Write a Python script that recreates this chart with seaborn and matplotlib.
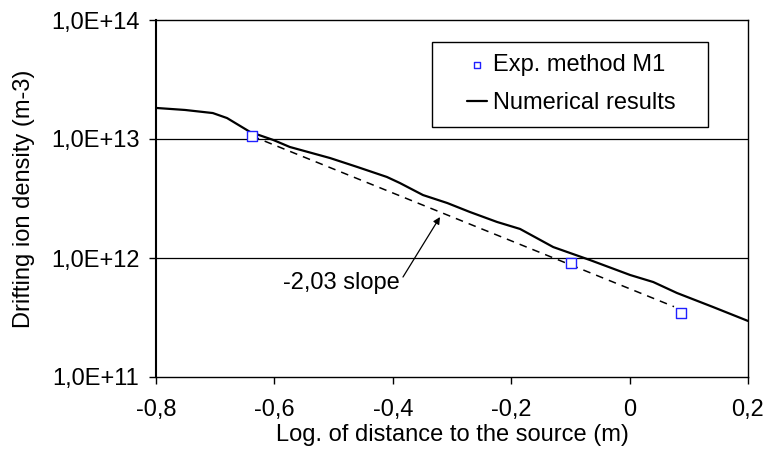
import matplotlib
matplotlib.use("Agg")
import matplotlib.pyplot as plt
import matplotlib.ticker as mticker
from matplotlib.patches import Rectangle
import seaborn as sns
import pandas as pd

# Numerical results curve (log distance, log10 density)
num_x = [-0.800, -0.751, -0.704, -0.680, -0.641, -0.602, -0.574, -0.506, -0.460,
         -0.410, -0.388, -0.349, -0.308, -0.270, -0.224, -0.185, -0.129, -0.067,
         0.001, 0.040, 0.080, 0.141, 0.200]
num_logy = [13.261, 13.244, 13.218, 13.176, 13.059, 12.992, 12.933, 12.840, 12.765,
            12.681, 12.630, 12.529, 12.462, 12.387, 12.303, 12.244, 12.092, 11.983,
            11.857, 11.798, 11.706, 11.588, 11.471]
num_y = [10 ** v for v in num_logy]

# Experimental points (method M1)
exp_x = [-0.638, -0.099, 0.087]
exp_y = [1.06e13, 9.1e11, 3.45e11]

# Fitted slope line endpoints
fit_x = [-0.638, 0.075]
fit_y = [1.06e13, 3.9e11]

x_ticks = [-0.8, -0.6, -0.4, -0.2, 0.0, 0.2]
x_tick_labels = ["-0,8", "-0,6", "-0,4", "-0,2", "0", "0,2"]
y_ticks = [1e11, 1e12, 1e13, 1e14]
y_tick_labels = ["1,0E+11", "1,0E+12", "1,0E+13", "1,0E+14"]

sns.set_theme(style="white")
plt.rcParams['font.family'] = ['Liberation Sans', 'DejaVu Sans']
plt.rcParams['text.color'] = 'black'
plt.rcParams['axes.labelcolor'] = 'black'
plt.rcParams['xtick.color'] = 'black'
plt.rcParams['ytick.color'] = 'black'

FS = 17
W, H = 767, 451
fig = plt.figure(figsize=(W / 100, H / 100), dpi=100)
ax = fig.add_axes([156 / W, 1 - 377 / H, (748 - 156) / W, (377 - 20) / H])

df_num = pd.DataFrame({"x": num_x, "y": num_y})
df_exp = pd.DataFrame({"x": exp_x, "y": exp_y})
df_fit = pd.DataFrame({"x": fit_x, "y": fit_y})

ax.set_yscale("log")
ax.set_xlim(-0.8, 0.2)
ax.set_ylim(1e11, 1e14)

for v in [1e12, 1e13]:
    ax.axhline(v, color="black", lw=0.9, zorder=1)

sns.lineplot(data=df_fit, x="x", y="y", ax=ax, color="black", lw=1.1,
             linestyle=(0, (5, 4)), legend=False, zorder=2)
sns.lineplot(data=df_num, x="x", y="y", ax=ax, color="black", lw=1.6,
             label="Numerical results", zorder=3, sort=False)
sns.scatterplot(data=df_exp, x="x", y="y", ax=ax, marker="s", s=45,
                facecolor="white", edgecolor="#2020FF", linewidth=1.0,
                label="Exp. method M1", zorder=4)

ax.set_xticks(x_ticks)
ax.set_xticklabels(x_tick_labels)
ax.set_yticks(y_ticks)
ax.set_yticklabels(y_tick_labels)
ax.yaxis.set_minor_locator(mticker.NullLocator())
ax.tick_params(axis="both", which="major", direction="out", length=5, width=1,
               color="black", labelcolor="black", labelsize=FS, left=True, bottom=True)
ax.tick_params(axis="x", pad=11)
ax.tick_params(axis="y", pad=7)

for s in ax.spines.values():
    s.set_color("black")
    s.set_linewidth(1.0)
ax.spines["left"].set_linewidth(1.5)

ax.set_xlabel("Log. of distance to the source (m)", fontsize=FS, va="center", color="black")
ax.xaxis.set_label_coords(0.5, -(435 - 377) / 357)
ax.set_ylabel("Drifting ion density (m-3)", fontsize=FS, va="center", color="black")
ax.yaxis.set_label_coords((24 - 156) / 592, 0.5)

handles, labels = ax.get_legend_handles_labels()
order = [labels.index("Exp. method M1"), labels.index("Numerical results")]
leg = ax.legend([handles[i] for i in order], [labels[i] for i in order],
                loc="upper left", bbox_to_anchor=(467 / W, 1 - 54 / H),
                bbox_transform=fig.transFigure, fontsize=FS, frameon=False,
                handlelength=0.85, handletextpad=0.25, borderpad=0.0,
                borderaxespad=0.0, labelspacing=0.67, markerscale=0.75,
                labelcolor="black")
leg.set_zorder(6)
ax.add_patch(Rectangle((432 / W, 1 - 127 / H), (708 - 432) / W, (127 - 42) / H,
                       transform=fig.transFigure, facecolor="white",
                       edgecolor="black", lw=1.0, zorder=5, clip_on=False))

ax.text(-0.5855, 6.17e11, "-2,03 slope", fontsize=FS, ha="left", va="center",
        color="black")
ax.annotate("", xy=(-0.3203, 2.21e12), xytext=(-0.3828, 6.92e11),
            arrowprops=dict(arrowstyle="-|>", color="black", lw=0.9,
                            mutation_scale=10, shrinkA=0, shrinkB=0))

fig.savefig("out.png", dpi=100)
